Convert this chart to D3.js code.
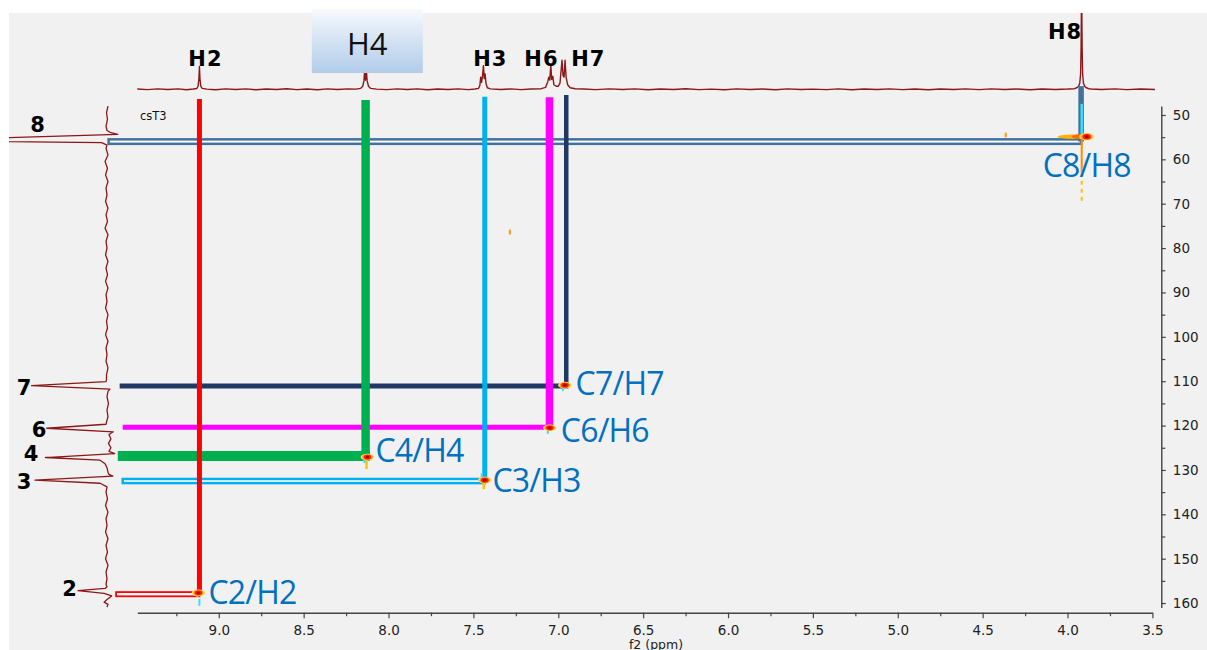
<!DOCTYPE html>
<html>
<head>
<meta charset="utf-8">
<script src="https://cdn.jsdelivr.net/npm/d3@7"></script>
<style>
  html, body { margin: 0; padding: 0; background: #ffffff; }
  svg { display: block; }
</style>
</head>
<body>
<svg id="chart" width="1207" height="650"></svg>
<script>
// ---------------- data ----------------
// axis ticks (ppm)
const f2Ticks = [9.0, 8.5, 8.0, 7.5, 7.0, 6.5, 6.0, 5.5, 5.0, 4.5, 4.0, 3.5];
const f2Minor = [9.25, 8.75, 8.25, 7.75, 7.25, 6.75, 6.25, 5.75, 5.25, 4.75, 4.25, 3.75];
const f1Ticks = [50, 60, 70, 80, 90, 100, 110, 120, 130, 140, 150, 160];
const f1Minor = [55, 65, 75, 85, 95, 105, 115, 125, 135, 145, 155];

// assignments
const protonLabels = ["H2", "H4", "H3", "H6", "H7", "H8"];
const carbonLabels = ["2", "4", "3", "6", "7", "8"];
const corrLabels   = ["C2/H2", "C4/H4", "C3/H3", "C6/H6", "C7/H7", "C8/H8"];
const protonShift  = [9.114, 8.135, 7.433, 7.052, 6.953, 3.92];   // f2, ppm
const carbonShift  = [158.0, 126.85, 132.5, 120.4, 111.1, 56.0];  // f1, ppm

// HSQC cross peaks (f2, f1)
const peakH = [9.120, 8.124, 7.433, 7.050, 6.961, 3.887];
const peakC = [157.7, 127.1, 132.3, 120.5, 110.9, 54.9];
// weak artefacts
const spotH = [7.285, 4.364];
const spotC = [76.4, 54.5];

// 1H projection (f2 ppm, relative intensity)
const protonTrace = [
  [9.48, 0.3], [9.42, -0.4], [9.36, 0.6], [9.30, -0.2], [9.24, 0.5], [9.19, -0.5], [9.15, 0.4],
  [9.13, 1.0], [9.122, 4], [9.117, 14], [9.114, 30], [9.111, 14], [9.106, 4], [9.098, 1.2],
  [9.07, 0.2], [9.02, -0.5], [8.96, 0.6], [8.90, -0.3], [8.84, 0.5], [8.78, -0.6], [8.72, 0.4],
  [8.66, -0.2], [8.60, 0.7], [8.54, -0.4], [8.48, 0.3], [8.42, -0.5], [8.36, 0.6], [8.30, -0.3],
  [8.24, 0.5], [8.19, 0.2], [8.165, 1.2],
  [8.152, 4], [8.145, 11], [8.141, 23], [8.136, 12], [8.130, 23], [8.126, 11], [8.118, 4], [8.105, 1.2],
  [8.07, 0.2], [8.01, -0.4], [7.95, 0.5], [7.89, -0.3], [7.83, 0.6], [7.77, -0.5], [7.71, 0.3],
  [7.65, -0.2], [7.59, 0.6], [7.53, -0.4], [7.49, 0.4], [7.47, 1.2],
  [7.462, 5], [7.457, 16], [7.452, 9], [7.446, 18], [7.441, 31], [7.436, 14], [7.431, 20],
  [7.426, 8], [7.418, 2], [7.40, 0.6],
  [7.34, -0.3], [7.28, 0.5], [7.22, -0.4], [7.16, 0.4], [7.10, 0.8], [7.075, 2.5],
  [7.062, 10], [7.056, 16], [7.050, 12], [7.044, 32], [7.039, 13], [7.032, 17], [7.026, 6],
  [7.012, 4], [7.000, 4], [6.990, 8],
  [6.978, 38], [6.972, 18], [6.966, 16], [6.960, 38], [6.954, 16], [6.945, 6], [6.93, 2], [6.90, 0.8],
  [6.85, 0.3], [6.78, -0.4], [6.70, 0.5], [6.62, -0.2], [6.55, 0.6], [6.47, -0.5], [6.40, 0.3],
  [6.32, -0.3], [6.25, 0.7], [6.17, -0.4], [6.10, 0.2], [6.02, -0.6], [5.95, 0.5], [5.87, -0.2],
  [5.80, 0.4], [5.72, -0.5], [5.65, 0.6], [5.57, -0.3], [5.50, 0.2], [5.42, -0.4], [5.35, 0.5],
  [5.27, -0.6], [5.20, 0.3], [5.12, -0.2], [5.05, 0.6], [4.97, -0.4], [4.90, 0.4], [4.82, -0.5],
  [4.75, 0.3], [4.67, -0.2], [4.60, 0.5], [4.52, -0.4], [4.45, 0.6], [4.37, -0.3], [4.30, 0.3],
  [4.22, -0.5], [4.15, 0.4], [4.07, -0.2], [4.00, 0.3],
  [3.960, 0.8], [3.945, 2], [3.935, 4], [3.928, 8], [3.923, 20], [3.920, 55], [3.917, 140],
  [3.914, 55], [3.911, 20], [3.906, 8], [3.899, 4], [3.890, 2], [3.875, 0.8],
  [3.86, 0.4], [3.80, -0.3], [3.72, 0.5], [3.65, -0.4], [3.57, 0.3], [3.485, -0.2]
];

// 13C projection (f1 ppm, relative intensity)
const carbonTrace = [
  [48.0, -1], [49.5, 0.5], [51.0, -0.5], [52.5, 1], [53.5, 0], [53.9, -3], [54.35, -11],
  [55.1, 100], [55.55, 140], [56.0, 100], [56.25, 5.5], [56.8, 0],
  [57.5, 1], [59.0, -1], [60.5, 2], [62.0, -0.5], [63.5, 1.5], [65.0, -1], [66.5, 1], [68.0, 0],
  [69.5, 1.5], [71.0, -1], [72.5, 1], [74.0, -0.5], [75.5, 2], [77.0, -1], [78.5, 1], [80.0, 0],
  [81.5, 1.5], [83.0, -1], [84.5, 1], [86.0, -0.5], [87.5, 1.5], [89.0, -1], [90.5, 1], [92.0, 0],
  [93.5, 1.5], [95.0, -1], [96.5, 0.5], [98.0, -0.5], [99.5, 1.5], [101.0, -1], [102.5, 1],
  [104.0, 0], [105.5, 1], [107.0, -1], [108.5, 0.5], [109.6, 0.5],
  [110.1, 1], [111.0, 77], [111.8, -3], [112.3, -1],
  [113.5, 0], [115.0, -1.5], [116.5, 0], [118.0, -1], [119.2, 0.5],
  [119.7, 1], [120.6, 61.5], [121.4, -6.5], [122.0, -2],
  [123.0, -4], [124.0, -1.5], [125.0, -4], [125.8, -2],
  [126.3, -8], [127.2, 63], [127.8, 7], [128.6, 2], [129.5, 0], [130.5, -1],
  [131.0, -2], [131.4, -6], [132.3, 73.5], [133.0, 7], [133.8, 0],
  [135.0, 1], [136.5, -0.5], [138.0, 1.5], [139.5, -1], [141.0, 1], [142.5, 0], [144.0, 1.5],
  [145.5, -1], [147.0, 1], [148.5, -0.5], [150.0, 1.5], [151.5, -1], [153.0, 1], [154.5, 0],
  [155.8, 1],
  [156.3, 0], [156.7, 2], [157.2, 29.6], [157.8, 3], [158.4, -4.8], [159.2, 0], [159.8, 3],
  [160.3, -1], [160.9, 0]
];

// ---------------- styling / layout ----------------
const guideColors = ["#ff0000", "#00b050", "#00b0f0", "#ff00ff", "#203864", "#41719c"];
const guideVWidth = [5, 8.5, 5, 7.5, 4.5, 5.5];
const guideHollow = [true, false, true, false, false, true];
const guideHWidth = [6, 10, 6.6, 5, 5, 7];
const guideTopF1  = [46.4, 46.6, 45.9, 46.0, 45.5, 43.5];
const guideLeftF2 = [9.605, 9.595, 9.566, 9.566, 9.584, 9.649];

const headerDx   = [6, 0, 5.5, -8, 22, -16];
const headerBase = [66, 55, 66, 66, 66, 39];
const sideLabelX  = [69.5, 31, 24, 39, 24, 37.5];
const sideLabelDy = [2.2, 4.9, 8, 9.2, 8.8, -9.6];
const corrDx = [10, 8, 7.7, 11, 10.7, -44];
const corrDy = [10.7, 5.4, 12.3, 14, 10, 40];
const peakTail = [4, 12, 9, 3, 2, 0];
const peakCyan = [[1, 6, 13], [-3, 3, 6], [-3, -7, -2], [-2, 3, 6], [-2, 2, 6], [0, 0, 0]];

const W = 1207, H = 650;
const svg = d3.select("#chart");

const x = d3.scaleLinear().domain([9.48, 3.5]).range([137.3, 1152.4]);
const y = d3.scaleLinear().domain([48, 161]).range([106.1, 607.5]);
const topY  = d3.scaleLinear().domain([0, 100]).range([89.3, 13]);
const sideX = d3.scaleLinear().domain([0, 100]).range([107, 9]);

// background
svg.append("rect").attr("width", W).attr("height", H).attr("fill", "#ffffff");
svg.append("rect").attr("x", 9).attr("y", 13).attr("width", W - 9).attr("height", H - 13)
  .attr("fill", "#f1f1f1");

const defs = svg.append("defs");
defs.append("clipPath").attr("id", "panelClip")
  .append("rect").attr("x", 9).attr("y", 13).attr("width", W - 9).attr("height", H - 13);
const grad = defs.append("linearGradient").attr("id", "boxGrad")
  .attr("x1", 0).attr("y1", 0).attr("x2", 0).attr("y2", 1);
grad.append("stop").attr("offset", "0%").attr("stop-color", "#f7fafd");
grad.append("stop").attr("offset", "55%").attr("stop-color", "#cfe0f2");
grad.append("stop").attr("offset", "100%").attr("stop-color", "#b2cce8");

// axes
const axisFont = "DejaVu Sans, Verdana, sans-serif";
function styleAxis(g) {
  g.selectAll("path.domain").attr("stroke", "#444").attr("stroke-width", 1.4);
  g.selectAll(".tick line").attr("stroke", "#444").attr("stroke-width", 1.2);
  g.selectAll(".tick text").attr("fill", "#222").style("font-family", axisFont).style("font-size", "13.5px");
}
const gx = svg.append("g").attr("transform", "translate(0,612.7)")
  .call(d3.axisBottom(x).tickValues(f2Ticks).tickFormat(d3.format(".1f"))
    .tickSize(5.5).tickSizeOuter(0).tickPadding(7));
styleAxis(gx);
const gxm = svg.append("g").attr("transform", "translate(0,612.7)")
  .call(d3.axisBottom(x).tickValues(f2Minor).tickFormat("").tickSize(3.5).tickSizeOuter(0));
gxm.select("path.domain").remove();
styleAxis(gxm);

const gy = svg.append("g").attr("transform", "translate(1161.3,0)")
  .call(d3.axisRight(y).tickValues(f1Ticks).tickFormat(d3.format("d"))
    .tickSize(4.5).tickSizeOuter(0).tickPadding(7));
styleAxis(gy);
const gym = svg.append("g").attr("transform", "translate(1161.3,0)")
  .call(d3.axisRight(y).tickValues(f1Minor).tickFormat("").tickSize(4).tickSizeOuter(0));
gym.select("path.domain").remove();
styleAxis(gym);

svg.append("text").attr("x", 656).attr("y", 648.5).attr("text-anchor", "middle")
  .attr("fill", "#222").style("font-family", axisFont).style("font-size", "12.5px")
  .text("f2 (ppm)");

// projections
const traceG = svg.append("g").attr("clip-path", "url(#panelClip)");
traceG.append("path").datum(protonTrace)
  .attr("d", d3.line().x(d => x(d[0])).y(d => topY(d[1])))
  .attr("fill", "none").attr("stroke", "#8b1717").attr("stroke-width", 1.4)
  .attr("stroke-linejoin", "round");
traceG.append("path").datum(carbonTrace)
  .attr("d", d3.line().x(d => sideX(d[1])).y(d => y(d[0])))
  .attr("fill", "none").attr("stroke", "#8b1717").attr("stroke-width", 1.3)
  .attr("stroke-linejoin", "round");

svg.append("text").attr("x", 140).attr("y", 120).attr("fill", "#111")
  .style("font-family", axisFont).style("font-size", "11.5px").text("csT3");

// assignment guides: horizontal legs first, then vertical legs
const guideG = svg.append("g");
protonShift.forEach((h, i) => {
  const c = carbonShift[i];
  const x0 = x(guideLeftF2[i]);
  if (guideHollow[i]) {
    const sw = i === 0 ? 1.8 : 2.5;
    const hh = guideHWidth[i] - sw;
    guideG.append("rect")
      .attr("x", x0).attr("y", y(c) - hh / 2)
      .attr("width", x(h) - x0).attr("height", hh)
      .attr("fill", "#ffffff").attr("stroke", guideColors[i]).attr("stroke-width", sw);
  } else {
    guideG.append("line")
      .attr("x1", x0).attr("x2", x(h) + guideVWidth[i] / 2)
      .attr("y1", y(c)).attr("y2", y(c))
      .attr("stroke", guideColors[i]).attr("stroke-width", guideHWidth[i]);
  }
});
protonShift.forEach((h, i) => {
  guideG.append("line")
    .attr("x1", x(h)).attr("x2", x(h))
    .attr("y1", y(guideTopF1[i])).attr("y2", y(carbonShift[i]))
    .attr("stroke", guideColors[i]).attr("stroke-width", guideVWidth[i]);
});

// cross peaks
const peakG = svg.append("g");
function crossPeak(cx, cy, s, tail, cyan) {
  if (cyan[2] !== cyan[1]) {
    peakG.append("line").attr("x1", cx + cyan[0]).attr("x2", cx + cyan[0])
      .attr("y1", cy + cyan[1]).attr("y2", cy + cyan[2])
      .attr("stroke", "#33e0ff").attr("stroke-width", 2);
  }
  if (tail > 0) {
    peakG.append("line").attr("x1", cx - 1).attr("x2", cx - 1)
      .attr("y1", cy).attr("y2", cy + tail)
      .attr("stroke", "#ffc000").attr("stroke-width", 2.4);
  }
  [["#ffd966", 6.8, 3.4], ["#ff9900", 5.2, 2.9], ["#ff1a00", 3.7, 2.4], ["#a80000", 1.8, 1.4]]
    .forEach(([col, rx, ry]) => {
      peakG.append("ellipse").attr("cx", cx).attr("cy", cy)
        .attr("rx", rx * s).attr("ry", ry * s).attr("fill", col);
    });
}
peakH.forEach((h, i) => {
  const cx = x(h), cy = y(peakC[i]);
  if (i === 5) {
    // methyl peak: broad f2 smear, t1 streaks
    peakG.append("line").attr("x1", cx - 5).attr("x2", cx - 5)
      .attr("y1", y(47.5)).attr("y2", cy).attr("stroke", "#33e0ff").attr("stroke-width", 2.5);
    peakG.append("line").attr("x1", cx - 5).attr("x2", cx - 5)
      .attr("y1", cy + 3).attr("y2", y(63)).attr("stroke", "#ff8c00").attr("stroke-width", 2);
    peakG.append("line").attr("x1", cx - 5).attr("x2", cx - 5)
      .attr("y1", y(63)).attr("y2", y(69.8)).attr("stroke", "#ffc000").attr("stroke-width", 2)
      .attr("stroke-dasharray", "4,4");
    peakG.append("ellipse").attr("cx", cx - 14).attr("cy", cy).attr("rx", 15).attr("ry", 2.2)
      .attr("fill", "#ffb000");
    peakG.append("ellipse").attr("cx", cx - 6).attr("cy", cy).attr("rx", 9).attr("ry", 2.6)
      .attr("fill", "#ff6a00");
    crossPeak(cx, cy, 1.1, 0, [0, 0, 0]);
  } else {
    crossPeak(cx, cy, 1, peakTail[i], peakCyan[i]);
  }
});
spotH.forEach((h, i) => {
  peakG.append("ellipse").attr("cx", x(h)).attr("cy", y(spotC[i]))
    .attr("rx", 1.3).attr("ry", 2.8).attr("fill", "#ffa020");
});

// labels
const corrFont = "'Open Sans', 'Noto Sans', sans-serif";
corrLabels.forEach((t, i) => {
  svg.append("text")
    .attr("x", x(peakH[i]) + corrDx[i]).attr("y", y(peakC[i]) + corrDy[i])
    .attr("fill", "#0070c0").style("font-family", corrFont).style("font-size", "32px")
    .style("letter-spacing", "-0.8px").text(t);
});

const boldFont = "'DejaVu Sans', Verdana, sans-serif";
protonLabels.forEach((t, i) => {
  if (i === 1) {
    const bx = x(protonShift[i]) + 1.7;
    svg.append("rect").attr("x", bx - 55.5).attr("y", 9).attr("width", 111).attr("height", 64)
      .attr("fill", "url(#boxGrad)");
    svg.append("text").attr("x", bx).attr("y", headerBase[i]).attr("text-anchor", "middle")
      .attr("fill", "#111").style("font-family", corrFont).style("font-size", "31px").text(t);
  } else {
    svg.append("text").attr("x", x(protonShift[i]) + headerDx[i]).attr("y", headerBase[i])
      .attr("text-anchor", "middle").attr("fill", "#000")
      .style("font-family", boldFont).style("font-weight", "bold").style("font-size", "21px")
      .style("letter-spacing", "1px").text(t);
  }
});

carbonLabels.forEach((t, i) => {
  svg.append("text").attr("x", sideLabelX[i]).attr("y", y(carbonShift[i]) + sideLabelDy[i])
    .attr("text-anchor", "middle").attr("fill", "#000")
    .style("font-family", boldFont).style("font-weight", "bold").style("font-size", "21px")
    .text(t);
});
</script>
</body>
</html>
